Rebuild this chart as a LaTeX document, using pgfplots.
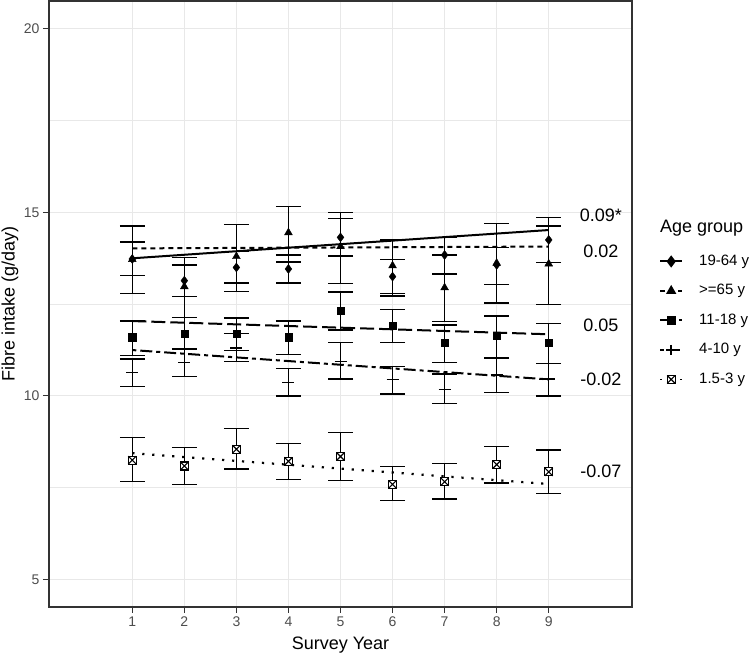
\documentclass[border=0pt]{standalone}
\usepackage{pgfplots}
\pgfplotsset{compat=1.18}
\usepackage{pgfplotstable}
\usepackage{fontspec}
\setmainfont{Liberation Sans}
\definecolor{tickgray}{RGB}{77,77,77}
\definecolor{framegray}{RGB}{51,51,51}
\definecolor{gridgray}{RGB}{232,232,232}

\pgfdeclareplotmark{sqx}{%
  \pgfpathrectangle{\pgfpoint{-\pgfplotmarksize}{-\pgfplotmarksize}}{\pgfpoint{2\pgfplotmarksize}{2\pgfplotmarksize}}%
  \pgfusepathqfillstroke
  \pgfpathmoveto{\pgfpoint{-\pgfplotmarksize}{-\pgfplotmarksize}}%
  \pgfpathlineto{\pgfpoint{\pgfplotmarksize}{\pgfplotmarksize}}%
  \pgfpathmoveto{\pgfpoint{-\pgfplotmarksize}{\pgfplotmarksize}}%
  \pgfpathlineto{\pgfpoint{\pgfplotmarksize}{-\pgfplotmarksize}}%
  \pgfusepathqstroke
}

\pgfplotstableread{
x y lo hi
1 13.73 13.29 14.19
2 13.14 12.70 13.57
3 13.50 13.08 13.93
4 13.46 13.08 13.84
5 14.32 13.81 14.84
6 13.25 12.79 13.71
7 13.84 13.32 14.32
8 13.57 13.04 14.04
9 14.25 13.64 14.87
}\adult
\pgfplotstableread{
x y lo hi
1 13.72 12.80 14.63
2 12.98 12.13 13.77
3 13.80 12.84 14.68
4 14.45 13.65 15.16
5 14.07 13.07 15.00
6 13.55 12.72 14.25
7 12.95 12.03 13.84
8 13.62 12.53 14.70
9 13.60 12.50 14.63
}\elder
\pgfplotstableread{
x y lo hi
1 11.60 11.10 12.04
2 11.70 11.28 12.13
3 11.70 11.23 12.12
4 11.60 11.12 12.04
5 12.32 11.80 12.83
6 11.92 11.45 12.36
7 11.46 10.91 11.93
8 11.64 11.03 12.18
9 11.44 10.89 11.98
}\teen
\pgfplotstableread{
x y lo hi
1 10.63 10.25 11.01
2 10.91 10.53 11.29
3 11.31 10.93 11.71
4 10.36 10.00 10.74
5 10.94 10.46 11.46
6 10.44 10.05 10.80
7 10.18 9.80 10.60
8 10.57 10.09 11.05
9 10.46 10.00 10.89
}\child
\pgfplotstableread{
x y lo hi
1 8.25 7.66 8.86
2 8.09 7.59 8.59
3 8.55 8.01 9.11
4 8.22 7.73 8.70
5 8.35 7.69 9.01
6 7.59 7.15 8.07
7 7.66 7.19 8.15
8 8.13 7.63 8.62
9 7.93 7.35 8.53
}\toddler

\tikzset{
  l1/.style={black, line width=2pt, solid},
  l2/.style={black, line width=2pt, dash pattern=on 5pt off 4pt},
  l3/.style={black, line width=2pt, dash pattern=on 14pt off 5pt},
  l4/.style={black, line width=2pt, dash pattern=on 4pt off 4pt on 12pt off 4pt},
  l5/.style={black, line width=2.2pt, dash pattern=on 2.2pt off 7.8pt},
}
\pgfplotsset{
  eb/.style={only marks, black, forget plot,
    error bars/y dir=both, error bars/y explicit,
    error bars/error bar style={line width=1.3pt, black, solid},
    error bars/error mark options={rotate=90, line width=1.3pt, mark size=12.5pt, black, solid}},
}

\begin{document}
\begin{tikzpicture}
\useasboundingbox (-49pt,-48pt) rectangle (701pt,607pt);
\begin{axis}[
  at={(0pt,0pt)}, anchor=south west,
  scale only axis, width=583pt, height=606pt,
  xmin=-0.6, xmax=10.6, ymin=4.25, ymax=20.76,
  xtick={1,2,...,9}, ytick={5,10,15,20},
  minor ytick={7.5,12.5,17.5},
  xmajorgrids, ymajorgrids, yminorgrids,
  major grid style={gridgray, line width=1pt},
  minor grid style={gridgray, line width=0.8pt},
  axis line style={framegray, line width=1.1pt},
  tick align=outside, major tick length=6pt, minor tick length=0pt,
  tick style={framegray, line width=1.1pt},
  xtick pos=bottom, ytick pos=left,
  /pgf/number format/assume math mode=true,
  tick label style={font=\fontsize{14}{16}\selectfont, text=tickgray},
  xlabel={Survey Year}, ylabel={Fibre intake (g/day)},
  label style={font=\fontsize{18}{20}\selectfont},
  xlabel style={at={(axis description cs:0.5,-0.0627)}, anchor=center},
  ylabel style={at={(axis description cs:-0.0669,0.5)}, anchor=center},
  clip=false,
  legend image code/.code={%
    \draw[mark repeat=2, mark phase=2, #1] plot coordinates {(0pt,0pt) (11pt,0pt) (22pt,0pt)};},
  legend cell align=left,
  legend style={draw=none, fill=none, at={(1.0463,0.5825)}, anchor=north west,
    font=\fontsize{15}{17}\selectfont, inner sep=0pt, row sep=15pt,
    nodes={inner sep=0pt, text height=11pt, text depth=3.5pt},
    /tikz/every odd column/.append style={column sep=16pt}},
]
\addplot[eb, mark=diamond*, mark size=4.5pt] table[x=x, y=y, y error plus expr=\thisrow{hi}-\thisrow{y}, y error minus expr=\thisrow{y}-\thisrow{lo}] {\adult};
\addplot[eb, mark=triangle*, mark size=4.5pt] table[x=x, y=y, y error plus expr=\thisrow{hi}-\thisrow{y}, y error minus expr=\thisrow{y}-\thisrow{lo}] {\elder};
\addplot[eb, mark=square*, mark size=3.6pt] table[x=x, y=y, y error plus expr=\thisrow{hi}-\thisrow{y}, y error minus expr=\thisrow{y}-\thisrow{lo}] {\teen};
\addplot[eb, mark=+, mark size=6pt, mark options={line width=1.3pt}] table[x=x, y=y, y error plus expr=\thisrow{hi}-\thisrow{y}, y error minus expr=\thisrow{y}-\thisrow{lo}] {\child};
\addplot[eb, mark=sqx, mark size=4pt, mark options={fill=white, line width=1.1pt}] table[x=x, y=y, y error plus expr=\thisrow{hi}-\thisrow{y}, y error minus expr=\thisrow{y}-\thisrow{lo}] {\toddler};
\addplot[l1, no marks, forget plot] coordinates {(1,13.75) (9,14.52)};
\addplot[l2, no marks, forget plot] coordinates {(1,14.02) (9,14.07)};
\addplot[l3, no marks, forget plot] coordinates {(1,12.04) (9,11.68)};
\addplot[l4, no marks, forget plot] coordinates {(1,11.25) (9,10.45)};
\addplot[l5, no marks, forget plot] coordinates {(1,8.44) (9,7.60)};
\node[font=\fontsize{18}{20}\selectfont] at (axis cs:10,14.93) {0.09*};
\node[font=\fontsize{18}{20}\selectfont] at (axis cs:10,13.93) {0.02};
\node[font=\fontsize{18}{20}\selectfont] at (axis cs:10,11.93) {0.05};
\node[font=\fontsize{18}{20}\selectfont] at (axis cs:10,10.46) {-0.02};
\node[font=\fontsize{18}{20}\selectfont] at (axis cs:10,7.96) {-0.07};
\node[anchor=west, font=\fontsize{18}{20}\selectfont, inner sep=0pt] at (axis description cs:1.048,0.6254) {Age group};
\addlegendimage{l1, mark=diamond*, mark size=4.5pt, mark options={solid}}
\addlegendentry{19-64 y}
\addlegendimage{l2, line width=1.5pt, mark=triangle*, mark size=4.5pt, mark options={solid}}
\addlegendentry{>=65 y}
\addlegendimage{l3, mark=square*, mark size=3.6pt, mark options={solid}}
\addlegendentry{11-18 y}
\addlegendimage{l4, line width=1.5pt, mark=+, mark size=5pt, mark options={solid}}
\addlegendentry{4-10 y}
\addlegendimage{l5, line width=1.5pt, mark=sqx, mark size=4pt, mark options={solid, fill=white, line width=1.1pt}}
\addlegendentry{1.5-3 y}
\end{axis}
\end{tikzpicture}
\end{document}
